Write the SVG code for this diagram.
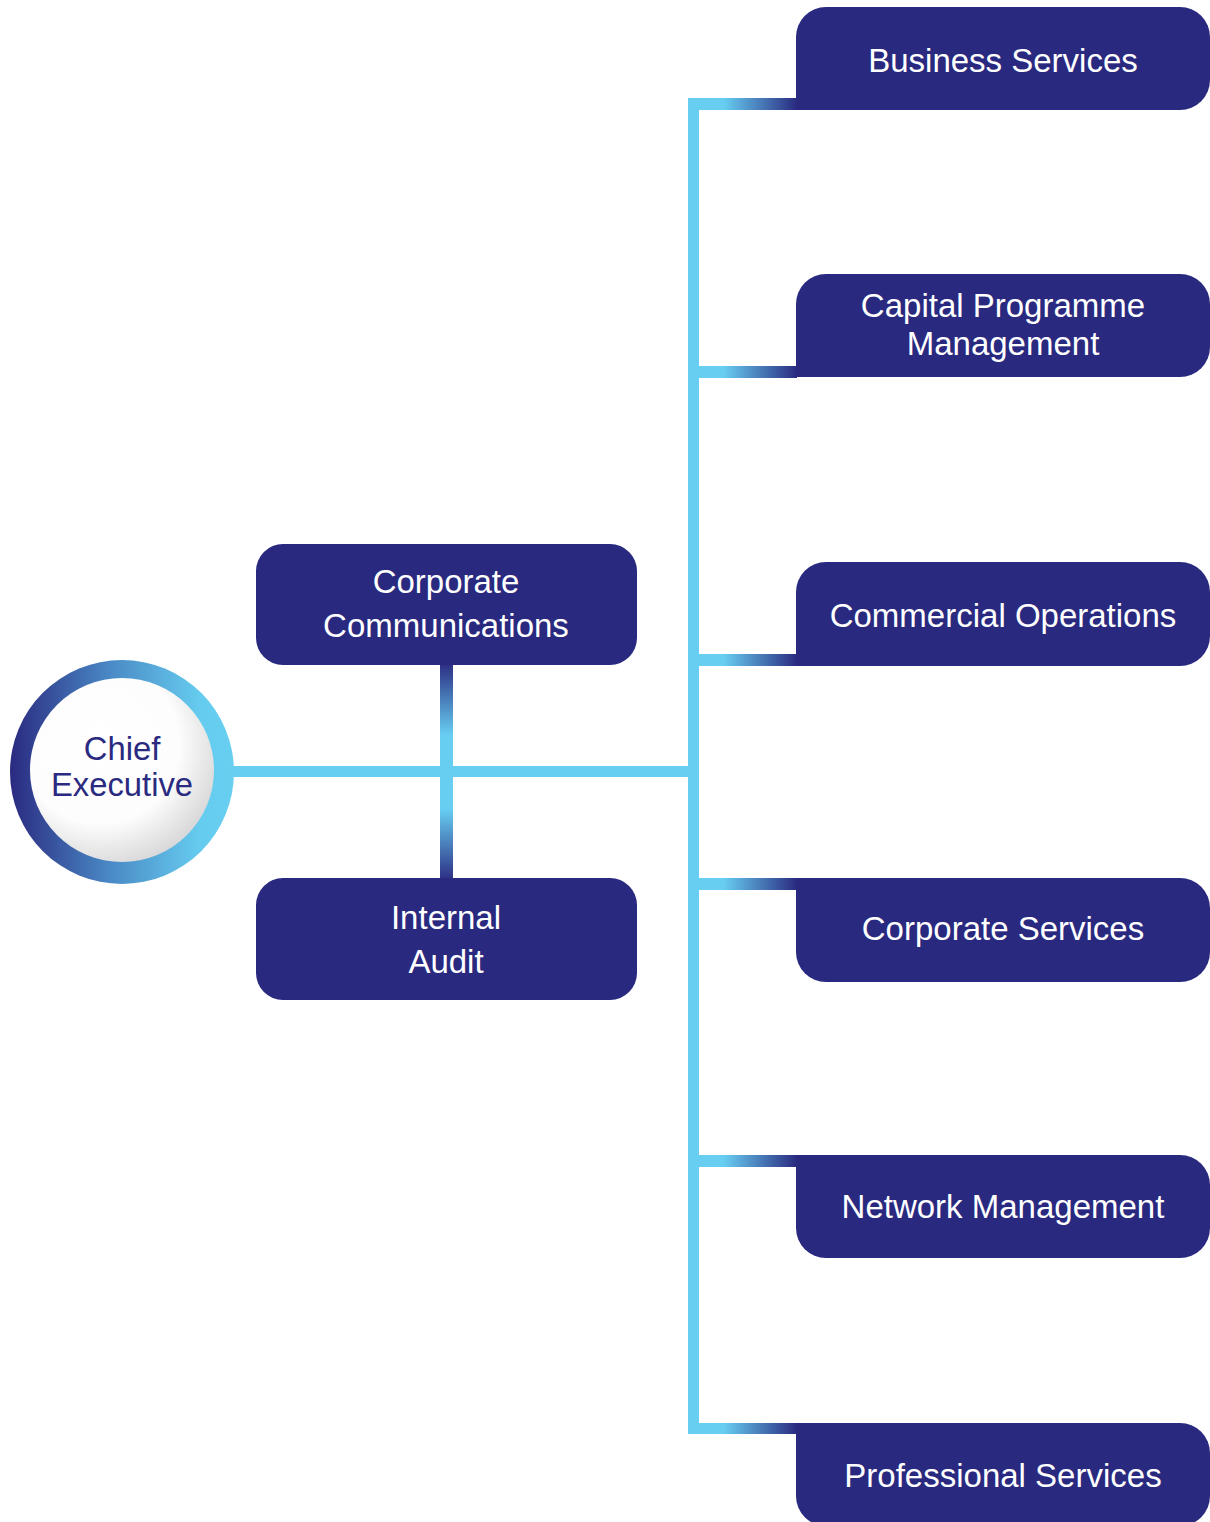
<svg xmlns="http://www.w3.org/2000/svg" width="1210" height="1522" viewBox="0 0 1210 1522">
<style>
.box{fill:#29297f}
.lbl{font-family:"Liberation Sans",Arial,Helvetica,sans-serif;font-size:33px;fill:#ffffff;text-anchor:middle}
.ce{font-family:"Liberation Sans",Arial,Helvetica,sans-serif;font-size:32.8px;fill:#2a2a80;text-anchor:middle}
.line{fill:#67cdf1}
</style>
<defs>
<linearGradient id="gBranch" x1="0" y1="0" x2="1" y2="0">
<stop offset="0" stop-color="#67cdf1"/>
<stop offset="0.33" stop-color="#67cdf1"/>
<stop offset="1" stop-color="#2a2a80"/>
</linearGradient>
<linearGradient id="gVert" x1="0" y1="0" x2="0" y2="1">
<stop offset="0" stop-color="#2a2a80"/>
<stop offset="0.33" stop-color="#67cdf1"/>
<stop offset="0.67" stop-color="#67cdf1"/>
<stop offset="1" stop-color="#2a2a80"/>
</linearGradient>
<linearGradient id="gRing" x1="0" y1="0" x2="1" y2="0">
<stop offset="0" stop-color="#2a2a80"/>
<stop offset="0.45" stop-color="#4a8ac6"/>
<stop offset="0.85" stop-color="#66ccef"/>
<stop offset="1" stop-color="#68cff1"/>
</linearGradient>
<radialGradient id="gInner" cx="0.38" cy="0.36" r="0.72">
<stop offset="0" stop-color="#ffffff"/>
<stop offset="0.6" stop-color="#fdfdfd"/>
<stop offset="1" stop-color="#d2d2d4"/>
</radialGradient>
</defs>

<g id="connectors">
<rect class="line" x="225" y="766" width="469" height="11"/>
<rect x="440" y="662" width="13" height="220" fill="url(#gVert)"/>
<rect class="line" x="688" y="98" width="11" height="1336"/>
<rect x="688" y="98" width="109" height="12" fill="url(#gBranch)"/>
<rect x="688" y="366" width="109" height="12" fill="url(#gBranch)"/>
<rect x="688" y="654" width="109" height="12" fill="url(#gBranch)"/>
<rect x="688" y="878" width="109" height="12" fill="url(#gBranch)"/>
<rect x="688" y="1155" width="109" height="12" fill="url(#gBranch)"/>
<rect x="688" y="1423" width="109" height="11" fill="url(#gBranch)"/>
</g>

<g id="chief-executive">
<circle cx="122" cy="772" r="112" fill="url(#gRing)"/>
<circle cx="122" cy="770" r="92" fill="url(#gInner)"/>
<text class="ce" x="122" y="760">Chief</text>
<text class="ce" x="122" y="796">Executive</text>
</g>

<g id="corporate-communications">
<rect class="box" x="256" y="544" width="381" height="121" rx="27"/>
<text class="lbl" x="446" y="593">Corporate</text>
<text class="lbl" x="446" y="637">Communications</text>
</g>

<g id="internal-audit">
<rect class="box" x="256" y="878" width="381" height="122" rx="27"/>
<text class="lbl" x="446" y="929">Internal</text>
<text class="lbl" x="446" y="973">Audit</text>
</g>

<g id="business-services">
<path class="box" d="M796,110 L796,37 A30,30 0 0 1 826,7 L1180,7 A30,30 0 0 1 1210,37 L1210,80 A30,30 0 0 1 1180,110 Z"/>
<text class="lbl" x="1003" y="72">Business Services</text>
</g>

<g id="capital-programme-management">
<path class="box" d="M796,377 L796,304 A30,30 0 0 1 826,274 L1180,274 A30,30 0 0 1 1210,304 L1210,347 A30,30 0 0 1 1180,377 Z"/>
<text class="lbl" x="1003" y="317">Capital Programme</text>
<text class="lbl" x="1003" y="355">Management</text>
</g>

<g id="commercial-operations">
<path class="box" d="M796,666 L796,592 A30,30 0 0 1 826,562 L1180,562 A30,30 0 0 1 1210,592 L1210,636 A30,30 0 0 1 1180,666 Z"/>
<text class="lbl" x="1003" y="627">Commercial Operations</text>
</g>

<g id="corporate-services">
<path class="box" d="M796,878 L1180,878 A30,30 0 0 1 1210,908 L1210,952 A30,30 0 0 1 1180,982 L826,982 A30,30 0 0 1 796,952 Z"/>
<text class="lbl" x="1003" y="940">Corporate Services</text>
</g>

<g id="network-management">
<path class="box" d="M796,1155 L1180,1155 A30,30 0 0 1 1210,1185 L1210,1228 A30,30 0 0 1 1180,1258 L826,1258 A30,30 0 0 1 796,1228 Z"/>
<text class="lbl" x="1003" y="1218">Network Management</text>
</g>

<g id="professional-services">
<path class="box" d="M796,1423 L1180,1423 A30,30 0 0 1 1210,1453 L1210,1496 A30,30 0 0 1 1180,1526 L826,1526 A30,30 0 0 1 796,1496 Z"/>
<text class="lbl" x="1003" y="1487">Professional Services</text>
</g>
</svg>
